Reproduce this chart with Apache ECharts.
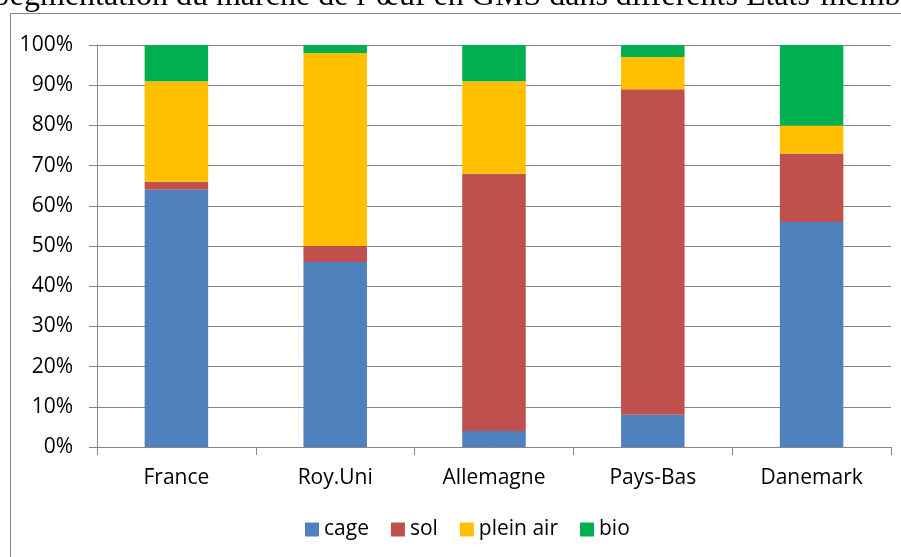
<!DOCTYPE html>
<html>
<head>
<meta charset="utf-8">
<script src="https://cdn.jsdelivr.net/npm/echarts@6/dist/echarts.min.js"></script>
<style>
  html, body { margin: 0; padding: 0; background: #fff; }
  #chart { width: 901px; height: 557px; }
</style>
</head>
<body>
<div id="chart"></div>
<script>
var countries = ['France', 'Roy.Uni', 'Allemagne', 'Pays-Bas', 'Danemark'];
var cage = [64, 46, 4, 8, 56];
var sol = [2, 4, 64, 81, 17];
var plein_air = [25, 48, 23, 8, 7];
var bio = [9, 2, 9, 3, 20];

var chart = echarts.init(document.getElementById('chart'));

var axisGray = '#868686';
var font = '"Open Sans", "Noto Sans", sans-serif';

function stackSeries(name, data, color) {
    return {
        name: name,
        type: 'bar',
        stack: 'total',
        barWidth: '40%',
        itemStyle: { color: color },
        emphasis: { disabled: true },
        data: data
    };
}

var option = {
    animation: false,
    title: {
        text: 'Segmentation du marché de l\u2019œuf en GMS dans différents Etats-membres',
        left: -13,
        top: -24,
        textStyle: {
            fontFamily: '"Liberation Serif", serif',
            fontSize: 32,
            fontWeight: 'normal',
            color: '#000'
        }
    },
    graphic: [{
        type: 'rect',
        silent: true,
        shape: { x: 10.5, y: 13.5, width: 1000, height: 1000 },
        style: { fill: 'none', stroke: axisGray, lineWidth: 1 }
    }],
    legend: {
        left: 300,
        top: 514,
        itemWidth: 14,
        itemHeight: 14,
        itemGap: 22,
        icon: 'rect',
        textStyle: { fontFamily: font, fontSize: 21, color: '#000' },
        data: ['cage', 'sol', 'plein air', 'bio']
    },
    grid: {
        left: 97,
        right: 10,
        top: 45,
        bottom: 110,
        containLabel: false
    },
    xAxis: {
        type: 'category',
        data: countries,
        axisLine: { lineStyle: { color: axisGray, width: 1 } },
        axisTick: { show: true, length: 8, lineStyle: { color: axisGray } },
        axisLabel: { fontFamily: font, fontSize: 21, color: '#000', margin: 21 }
    },
    yAxis: {
        type: 'value',
        min: 0,
        max: 100,
        interval: 10,
        axisLine: { show: true, lineStyle: { color: axisGray, width: 1 } },
        axisTick: { show: true, length: 8, lineStyle: { color: axisGray } },
        axisLabel: {
            fontFamily: font, fontSize: 21, color: '#000', margin: 24,
            formatter: '{value}%'
        },
        splitLine: { lineStyle: { color: axisGray, width: 1 } }
    },
    series: [
        stackSeries('cage', cage, '#4F81BD'),
        stackSeries('sol', sol, '#C0504D'),
        stackSeries('plein air', plein_air, '#FFC000'),
        stackSeries('bio', bio, '#00B050')
    ]
};

chart.setOption(option);
</script>
</body>
</html>
